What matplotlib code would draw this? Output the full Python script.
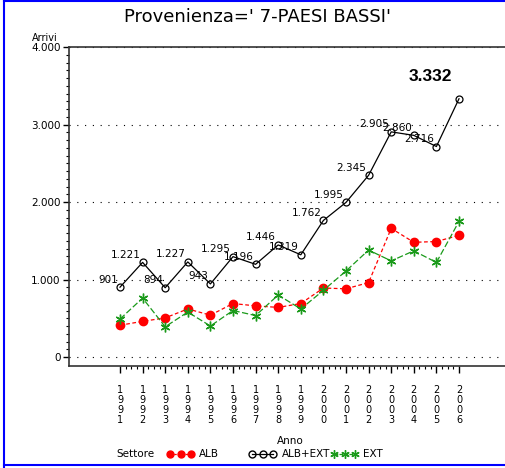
import matplotlib
matplotlib.use("Agg")
import matplotlib.pyplot as plt
from matplotlib.lines import Line2D
from matplotlib.ticker import FuncFormatter, FixedLocator
import numpy as np

anni = list(range(1991, 2007))
alb_ext = [901, 1221, 894, 1227, 943, 1295, 1196, 1446, 1319, 1762, 1995, 2345, 2905, 2860, 2716, 3332]
alb = [410, 460, 505, 620, 540, 690, 660, 640, 690, 890, 880, 960, 1660, 1480, 1490, 1570]
ext = [490, 760, 390, 580, 400, 600, 535, 800, 620, 860, 1110, 1380, 1240, 1370, 1220, 1750]
yticks = [0, 1000, 2000, 3000, 4000]

narrow = ['Liberation Sans Narrow', 'DejaVu Sans']
plt.rcParams['font.family'] = ['DejaVu Sans']

fig = plt.figure(figsize=(5.05, 4.68), dpi=100)
W, H = 505, 468
# assi: spina sinistra x=69, alto y=47, basso y=366, destra oltre l'immagine
ax = fig.add_axes([69 / W, (H - 366) / H, (511 - 69) / W, (366 - 47) / H])

px_year = 22.6
ax.set_xlim(1991 - (120 - 69) / px_year, 1991 + (511 - 120) / px_year)
ax.set_ylim(-116, 4000)

red = '#ff0000'
green = '#1a9a1a'
ax.plot(anni, alb, color=red, ls=(0, (3, 2)), lw=0.9, marker='o', ms=6,
        mfc=red, mec=red, zorder=3)
ax.plot(anni, ext, color=green, ls=(0, (5, 2)), lw=0.9, marker=(6, 2, 0), ms=7,
        mew=1.0, mec=green, zorder=3)
ax.plot(anni, alb_ext, color='black', lw=0.9, marker='o', ms=5,
        mfc='none', mec='black', mew=0.9, zorder=3)

# etichette valori ALB+EXT
for a, v in zip(anni[:-1], alb_ext[:-1]):
    lab = f"{v:,}".replace(',', '.')
    ax.annotate(lab, (a, v), xytext=(-1.5, 5.5), textcoords='offset points',
                ha='right', va='center', fontsize=7.5, family=narrow, zorder=4)
ax.annotate(f"{alb_ext[-1]:,}".replace(',', '.'), (anni[-1], alb_ext[-1]),
            xytext=(-5, 16), textcoords='offset points', ha='right', va='center',
            fontsize=12.5, fontweight='bold', family=['Liberation Sans', 'DejaVu Sans'])

# griglia
for y in yticks:
    ax.axhline(y, color='black', ls=(0, (1, 6)), lw=0.8, zorder=1)

ax.spines['right'].set_visible(False)
for s in ['left', 'top', 'bottom']:
    ax.spines[s].set_linewidth(1.2)
    ax.spines[s].set_color('#333333')

ax.yaxis.set_major_locator(FixedLocator(yticks))
ax.yaxis.set_minor_locator(FixedLocator(np.arange(0, 4001, 100)))
ax.yaxis.set_major_formatter(FuncFormatter(lambda v, p: f"{int(v):,}".replace(',', '.')))
ax.tick_params(axis='y', which='major', direction='out', length=4, width=1, pad=2,
               labelsize=7.5)
ax.tick_params(axis='y', which='minor', direction='out', length=2, width=0.8)

ax.xaxis.set_major_locator(FixedLocator(anni))
ax.xaxis.set_minor_locator(FixedLocator(np.arange(1991, 2006.01, 0.25)))
ax.set_xticklabels(['\n'.join(str(a)) for a in anni], fontsize=7, linespacing=0.98)
ax.tick_params(axis='x', which='major', direction='out', length=5, width=1, pad=9)
ax.tick_params(axis='x', which='minor', direction='out', length=2.5, width=0.8)

ax.set_xlabel('Anno', fontsize=7.5, labelpad=8)
fig.text(45 / W, (H - 38) / H, 'Arrivi', fontsize=7, ha='center', va='center')

fig.text(257 / W, (H - 17) / H, "Provenienza=' 7-PAESI BASSI'", fontsize=13,
         ha='center', va='center', color='black')

# legenda
ly = (H - 454) / H
fig.text(116 / W, ly, 'Settore', fontsize=7.5, ha='left', va='center')
leg = [('ALB', red, (0, (2, 1)), 'o', red, 170, 199),
       ('ALB+EXT', 'black', '-', 'o', 'none', 252, 282),
       ('EXT', green, (0, (3, 1)), (6, 2, 0), green, 334, 363)]
for lab, c, ls, mk, mfc, x0, xt in leg:
    xs = [x0 / W, (x0 + 10.5) / W, (x0 + 21) / W]
    fig.add_artist(Line2D(xs, [ly] * 3, color=c, ls=ls, lw=0.9, marker=mk,
                          ms=5 if mk == 'o' else 6, mfc=mfc, mec=c,
                          transform=fig.transFigure))
    fig.text(xt / W, ly, lab, fontsize=7.5, ha='left', va='center')

# cornice blu
fig.add_artist(Line2D([4 / W, 4 / W], [0.5 / H, 1], color='blue', lw=1.5,
                      transform=fig.transFigure))
fig.add_artist(Line2D([4 / W, 1], [(H - 465) / H] * 2, color='blue', lw=1.5,
                      transform=fig.transFigure))
fig.add_artist(Line2D([4 / W, 1], [1 - 0.5 / H] * 2, color='blue', lw=1.5,
                      transform=fig.transFigure))

fig.savefig('out.png', dpi=100)
